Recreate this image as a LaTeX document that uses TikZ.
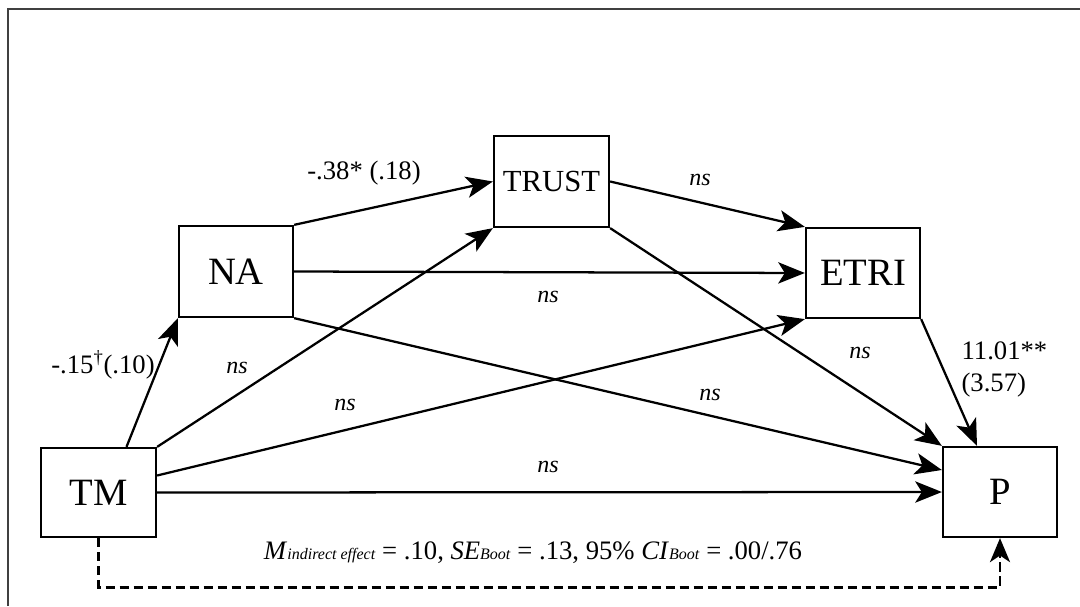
\documentclass[tikz,border=0pt]{standalone}
\usepackage{fontspec}
\setmainfont{Liberation Serif}
\usetikzlibrary{arrows.meta,calc}

\begin{document}
\begin{tikzpicture}[x=0.75pt,y=-0.75pt,
  var/.style={draw, line width=1.7pt, inner sep=0pt, font=\fontsize{29}{32}\selectfont},
  path/.style={line width=1.7pt, -{Stealth[length=20pt,width=16pt,inset=5pt]}},
  lbl/.style={font=\fontsize{20}{24}\selectfont, inner sep=1pt},
  nslbl/.style={font=\fontsize{18}{20}\selectfont\itshape, inner sep=1pt}]

% canvas and frame
\useasboundingbox (0,0) rectangle (1080,606);
\fill[white] (0,0) rectangle (1080,606);
\draw[line width=1.5pt, black!75] (8,606) -- (8,9) -- (1080,9);

% variables
\node[var, minimum width=114*0.75pt, minimum height=91*0.75pt] (NA) at (236,271.5) {NA};
\node[var, minimum width=115*0.75pt, minimum height=91*0.75pt, font=\fontsize{23}{26}\selectfont] (TRUST) at (551.5,181.5) {TRUST};
\node[var, minimum width=114*0.75pt, minimum height=90*0.75pt] (ETRI) at (863,273) {ETRI};
\node[var, minimum width=115*0.75pt, minimum height=89*0.75pt] (TM) at (98.5,492.5) {TM};
\node[var, minimum width=114*0.75pt, minimum height=90*0.75pt] (P) at (1000,492) {P};

% paths
\draw[path] ($(TM.north)+(28,0)$) -- (NA.south west);
\draw[path] (TM.north east) -- (TRUST.south west);
\draw[path] ($(TM.east)+(0,-17)$) -- (ETRI.south west);
\draw[path] (TM.east) -- (P.west);
\draw[path] (NA.north east) -- (TRUST.west);
\draw[path] (NA.east) -- (ETRI.west);
\draw[path] (NA.south east) -- ($(P.west)+(0,-22)$);
\draw[path] (TRUST.east) -- (ETRI.north west);
\draw[path] (TRUST.south east) -- (P.north west);
\draw[path] (ETRI.south east) -- ($(P.north)+(-23,0)$);

% indirect effect
\coordinate (dl) at ($(TM.south)+(0,49)$);
\coordinate (dr) at ($(P.south)+(0,49)$);
\draw[line width=2.1pt, dash pattern=on 7pt off 3.5pt, -{Stealth[length=18pt,width=15pt,inset=5pt]}]
  (TM.south) -- (dl) -- (dr) -- (P.south);

% coefficients
\node[lbl] (cNT) at (364,173) {-.38* (.18)};
\node[lbl] (cTN) at (103,365) {-.15\textsuperscript{\dag}(.10)};
\node[lbl, align=left, anchor=west] (cEP) at (960,369) {11.01**\\(3.57)};
\node[nslbl] (n1) at (700,180) {ns};
\node[nslbl] (n2) at (548,297) {ns};
\node[nslbl] (n3) at (237,368) {ns};
\node[nslbl] (n4) at (345,405) {ns};
\node[nslbl] (n5) at (710,395) {ns};
\node[nslbl] (n6) at (860,353) {ns};
\node[nslbl] (n7) at (548,467) {ns};

\node[font=\fontsize{20}{24}\selectfont, inner sep=0pt] (ind) at (533,553)
  {\textit{M}{\fontsize{12}{14}\selectfont\textit{indirect effect}} = .10, \textit{SE}{\fontsize{12}{14}\selectfont\textit{Boot}} = .13, 95\% \textit{CI}{\fontsize{12}{14}\selectfont\textit{Boot}} = .00/.76};
\end{tikzpicture}
\end{document}
